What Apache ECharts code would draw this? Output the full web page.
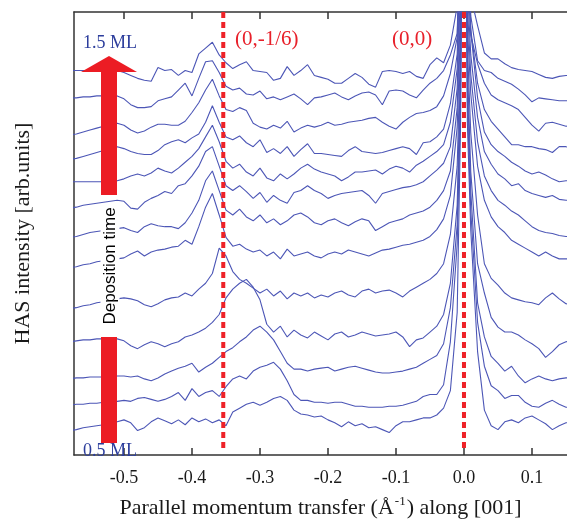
<!DOCTYPE html>
<html><head><meta charset="utf-8">
<script src="https://cdn.jsdelivr.net/npm/echarts@6/dist/echarts.min.js"></script>
<style>html,body{margin:0;padding:0;background:#fff}#c{width:567px;height:524px}</style>
</head><body><div id="c"></div>
<script>
// momentum transfer grid (1/Å)
const xValues = [-0.58,-0.57,-0.56,-0.55,-0.54,-0.53,-0.52,-0.51,-0.50,-0.49,
-0.48,-0.47,-0.46,-0.45,-0.44,-0.43,-0.42,-0.41,-0.40,-0.39,
-0.38,-0.37,-0.36,-0.35,-0.34,-0.33,-0.32,-0.31,-0.30,-0.29,
-0.28,-0.27,-0.26,-0.25,-0.24,-0.23,-0.22,-0.21,-0.20,-0.19,
-0.18,-0.17,-0.16,-0.15,-0.14,-0.13,-0.12,-0.11,-0.10,-0.09,
-0.08,-0.07,-0.06,-0.05,-0.04,-0.03,-0.02,-0.01,-0.005,0,
0.005,0.01,0.02,0.03,0.04,0.05,0.06,0.07,0.08,0.09,
0.10,0.11,0.12,0.13,0.14,0.15,0.16];
const tickValues = [-0.5,-0.4,-0.3,-0.2,-0.1,0,0.1];
const peakPositions = [-0.354, 0];
const peakLabels = ['(0,-1/6)', '(0,0)'];

// HAS intensity curves (arb. units, vertically offset), top (1.5 ML) to bottom (0.5 ML)
const c1 = [394,394,394,394,394,394,394,394,392,389,
386,384,383,397,394,395,389,394,392,411,
417,423,410,402,396,400,403,394,393,392,
384,386,398,389,394,400,389,387,385,381,
381,386,391,387,380,377,393,394,393,391,
393,388,386,400,407,402,420,460,600,900,
600,470,440,412,406,406,401,397,395,394,
393,390,387,386,388,389,389];
const c2 = [366,366,367,367,368,368,368,368,365,359,
356,356,357,363,365,367,374,381,368,386,
403,404,392,378,374,376,370,369,373,365,
367,364,367,370,365,359,366,367,369,371,
367,364,368,371,372,369,359,373,374,373,
369,366,374,381,386,394,410,432,560,900,
560,450,404,394,392,386,383,380,375,369,
362,366,365,364,363,363,363];
const c3 = [328,329,331,333,335,337,339,340,338,333,
330,332,336,339,339,338,338,342,351,361,
374,385,368,354,352,356,353,340,336,334,
338,335,342,331,335,338,336,338,341,338,
339,341,342,343,345,346,341,337,334,341,
346,350,351,353,357,368,391,428,540,900,
540,430,401,381,369,364,361,358,354,346,
338,332,340,341,339,337,336];
const c4 = [303,304,306,308,310,312,314,316,314,311,
309,308,308,312,318,321,323,320,325,329,
341,358,341,326,323,327,320,316,323,310,
314,309,316,306,313,319,309,309,308,307,
306,312,316,311,310,309,310,312,314,316,
314,308,320,321,326,334,360,411,520,900,
520,436,381,354,342,334,326,318,318,316,
316,314,313,310,316,316,314];
const c5 = [280,280,280,280,280,280,280,281,283,286,
288,286,289,294,291,289,294,300,306,314,
326,338,321,301,294,298,290,286,294,284,
281,288,283,288,294,298,293,290,288,286,
281,285,290,290,291,292,288,293,296,294,
290,297,301,306,311,318,341,396,500,900,
500,434,366,331,318,311,306,300,296,291,
288,290,287,283,280,281,281];
const c6 = [253,254,256,257,258,259,260,261,260,253,
252,259,263,266,270,268,276,278,286,296,
311,316,296,276,271,276,270,263,269,259,
266,261,258,269,271,276,271,268,263,266,
268,269,270,271,266,258,268,270,272,274,
275,277,280,286,292,299,316,376,480,900,
480,410,346,311,298,288,283,276,278,271,
268,266,264,266,262,261,261];
const c7 = [223,224,226,228,229,230,231,232,233,230,
228,234,237,235,234,234,232,238,248,261,
281,291,271,251,246,252,244,240,246,238,
242,236,240,246,248,244,238,236,240,242,
238,235,239,242,240,230,234,238,240,242,
246,248,250,254,261,271,291,356,460,900,
460,390,321,286,271,261,256,250,246,240,
234,230,228,227,225,224,224];
const c8 = [192,193,195,196,198,199,200,201,202,206,
209,204,208,210,211,213,214,220,216,234,
254,268,246,223,214,216,211,208,210,204,
208,201,211,204,206,208,204,202,206,208,
206,210,208,206,204,207,210,211,213,215,
216,218,220,224,231,242,266,336,440,900,
440,370,296,261,244,234,228,220,216,212,
208,204,208,204,201,201,201];
const c9 = [150,151,153,154,156,157,158,160,161,160,
158,154,152,155,159,161,162,166,163,170,
176,186,212,204,188,180,176,171,166,170,
163,168,160,166,163,166,161,164,162,166,
168,164,162,168,170,166,168,169,166,162,
168,172,176,180,186,196,226,296,420,900,
420,330,246,196,181,174,166,161,159,157,
156,154,161,166,160,155,154];
const c10 = [116,117,118,118,119,119,119,119,117,112,
109,113,116,114,111,114,116,121,123,126,
130,136,144,161,170,176,180,172,159,134,
126,132,121,128,123,120,126,122,118,124,
126,121,123,126,124,122,123,124,126,121,
111,118,120,126,132,144,176,256,400,900,
400,290,196,166,141,131,126,126,123,118,
114,109,100,106,113,116,117];
const c11 = [78,79,79,80,80,80,81,81,81,80,
81,78,76,79,83,86,89,91,94,85,
90,94,100,106,110,116,121,128,132,126,
118,106,94,88,88,86,88,89,90,86,
88,90,91,89,87,85,84,84,85,86,
88,90,94,98,102,114,151,236,380,900,
380,270,156,121,101,94,86,91,81,74,
78,81,78,76,78,79,79];
const c12 = [51,52,52,53,53,54,54,55,56,55,
58,59,57,55,57,60,64,56,68,60,
64,66,60,70,78,81,78,86,90,92,
95,88,76,62,56,56,54,54,53,54,
54,52,50,50,49,49,49,50,50,51,
53,55,60,62,62,72,116,216,360,900,
360,250,136,91,71,66,58,61,61,54,
50,49,53,56,52,49,49];
const c13 = [25,26,28,29,30,31,32,34,36,33,
25,28,34,38,35,32,36,31,38,34,
37,33,36,30,44,48,52,54,51,54,
58,60,56,46,42,41,39,40,36,33,
29,34,30,32,28,29,26,23,30,34,
34,36,38,38,41,48,66,146,340,900,
340,230,106,46,30,26,34,36,33,38,
40,36,32,26,30,33,33];
const curves = [c1,c2,c3,c4,c5,c6,c7,c8,c9,c10,c11,c12,c13];

const SERIF = '"Liberation Serif", "Times New Roman", serif';
const axisColor = '#333';
const chart = echarts.init(document.getElementById('c'), null, {renderer: 'canvas'});

const series = curves.map(c => ({
  type: 'line',
  data: xValues.map((x, i) => [x, c[i]]),
  showSymbol: false,
  symbol: 'none',
  clip: true,
  silent: true,
  z: 2,
  lineStyle: {color: '#4c56b6', width: 1.1}
}));
peakPositions.forEach(p => {
  series.push({
    type: 'line',
    data: [[p, 454], [p, 3]],
    showSymbol: false,
    symbol: 'none',
    silent: true,
    z: 5,
    lineStyle: {color: '#ee2228', width: 4, type: [6, 4]}
  });
});

chart.setOption({
  animation: false,
  backgroundColor: '#fff',
  grid: {left: 74, top: 12, right: 0, bottom: 58, containLabel: false},
  xAxis: [{
    type: 'value', min: -0.5735, max: 0.1515, position: 'bottom',
    axisLine: {show: true, onZero: false, lineStyle: {color: axisColor, width: 1.5}},
    axisTick: {show: true, inside: true, length: 7, customValues: tickValues, lineStyle: {color: axisColor, width: 1.5}},
    axisLabel: {show: true, customValues: tickValues, margin: 14, formatter: v => v.toFixed(1),
      fontFamily: SERIF, fontSize: 18, color: '#1a1a1a'},
    splitLine: {show: false},
    name: '{a|Parallel momentum transfer (Å}{s|-1}{a|) along [001]}',
    nameLocation: 'middle', nameGap: 40,
    nameTextStyle: {
      fontFamily: SERIF, fontSize: 22, color: '#1a1a1a',
      rich: {
        a: {fontFamily: SERIF, fontSize: 22, color: '#1a1a1a', lineHeight: 26},
        s: {fontFamily: SERIF, fontSize: 13, color: '#1a1a1a', verticalAlign: 'top', lineHeight: 12, padding: [0, 1, 0, 1]}
      }
    }
  }, {
    type: 'value', min: -0.5735, max: 0.1515, position: 'top',
    axisLine: {show: true, onZero: false, lineStyle: {color: axisColor, width: 1.5}},
    axisTick: {show: true, inside: true, length: 7, customValues: tickValues, lineStyle: {color: axisColor, width: 1.5}},
    axisLabel: {show: false},
    splitLine: {show: false}
  }],
  yAxis: {
    type: 'value', min: 0, max: 454, position: 'left',
    axisLine: {show: true, onZero: false, lineStyle: {color: axisColor, width: 1.5}},
    axisTick: {show: false}, axisLabel: {show: false}, splitLine: {show: false},
    name: 'HAS intensity [arb.units]', nameLocation: 'middle', nameRotate: 90, nameGap: 40,
    nameTextStyle: {fontFamily: SERIF, fontSize: 22, color: '#1a1a1a'}
  },
  graphic: [
    {type: 'polygon', z: 10, shape: {points: [[101,195],[117,195],[117,72],[137,72],[109,56],[81,72],[101,72]]}, style: {fill: '#ec1c24'}},
    {type: 'rect', z: 10, shape: {x: 101, y: 337, width: 16, height: 106}, style: {fill: '#ec1c24'}},
    {type: 'text', z: 11, x: 110, y: 266, rotation: Math.PI / 2,
      style: {text: 'Deposition time', font: '17px "Liberation Sans", Arial, sans-serif', fill: '#000',
        align: 'center', verticalAlign: 'middle', backgroundColor: '#fff', padding: [1, 3]}},
    {type: 'text', z: 11, x: 83, y: 43, style: {text: '1.5 ML', font: '18px ' + SERIF, fill: '#2c3d9c', align: 'left', verticalAlign: 'middle'}},
    {type: 'text', z: 11, x: 83, y: 451, style: {text: '0.5 ML', font: '18px ' + SERIF, fill: '#2c3d9c', align: 'left', verticalAlign: 'middle'}},
    {type: 'text', z: 11, x: 235, y: 39, style: {text: peakLabels[0], font: '21px ' + SERIF, fill: '#e8202a', align: 'left', verticalAlign: 'middle'}},
    {type: 'text', z: 11, x: 392, y: 39, style: {text: peakLabels[1], font: '21px ' + SERIF, fill: '#e8202a', align: 'left', verticalAlign: 'middle'}}
  ],
  series: series
});
</script>
</body></html>
